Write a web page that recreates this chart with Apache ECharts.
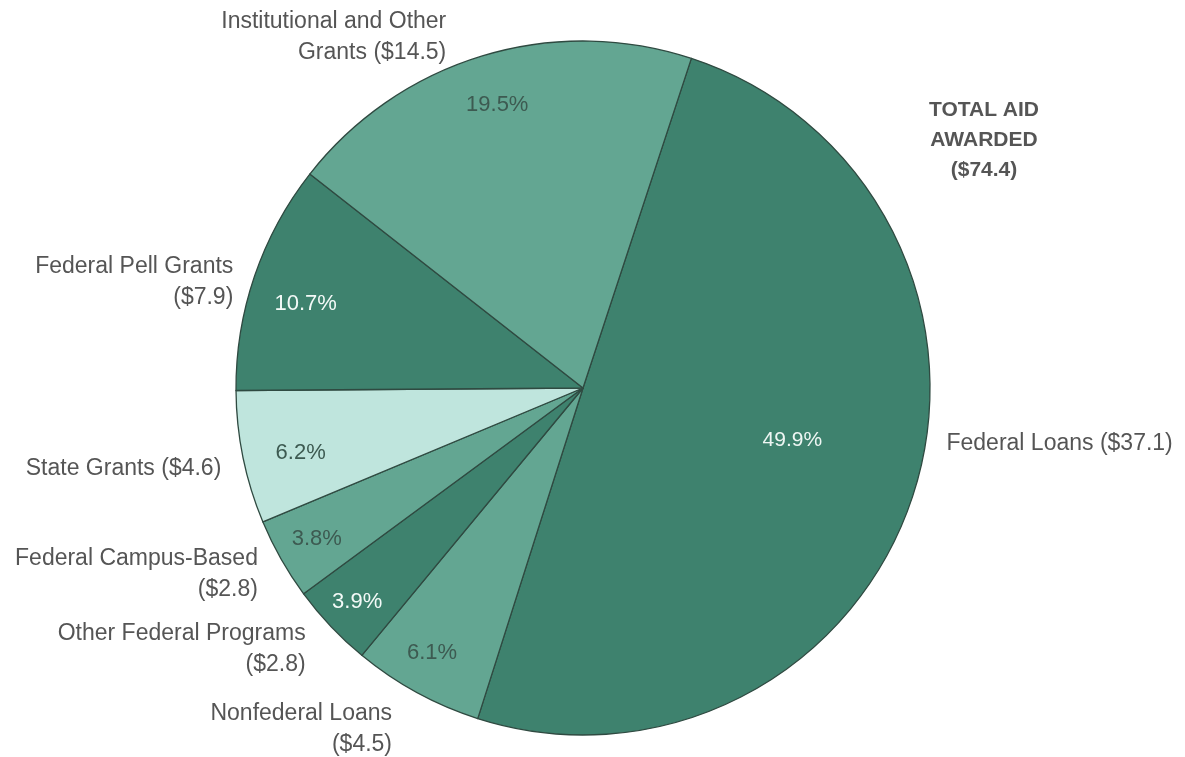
<!DOCTYPE html>
<html>
<head>
<meta charset="utf-8">
<script src="https://cdn.jsdelivr.net/npm/echarts@6/dist/echarts.min.js"></script>
<style>
html,body{margin:0;padding:0;background:#fff;}
#chart{width:1185px;height:757px;}
</style>
</head>
<body>
<div id="chart"></div>
<script>
// Data (clockwise from the Federal Loans slice)
const categories = ['Federal Loans', 'Nonfederal Loans', 'Other Federal Programs', 'Federal Campus-Based', 'State Grants', 'Federal Pell Grants', 'Institutional and Other Grants'];
const labelTexts = ['Federal Loans', 'Nonfederal Loans\n', 'Other Federal Programs\n', 'Federal Campus-Based\n', 'State Grants', 'Federal Pell Grants\n', 'Institutional and Other\nGrants'];
const percents = [49.9, 6.1, 3.9, 3.8, 6.2, 10.7, 19.5];
const amounts = [37.1, 4.5, 2.8, 2.8, 4.6, 7.9, 14.5];
const totalAid = 74.4;
const titleText = 'TOTAL AID\nAWARDED\n($' + totalAid.toFixed(1) + ')';

// Styles
const sliceColors = ['#3e826e', '#63a692', '#3e826e', '#63a692', '#bfe5dd', '#3e826e', '#63a692'];
const pctColors = ['#eef6f3', '#3d5a51', '#f4faf8', '#3d5a51', '#3d5a51', '#f4faf8', '#3d5a51'];
// label nudges (style only, relative to library placement)
const outerNudge = [[15, -55], [-13, 24], [-10, 13], [-6, 8], [-3, 8], [-3, 11], [-27, -5]];
const ringNudge = [[0, 0], [-6, -1], [-6, 6], [-3, 2], [14, 4], [9, 14], [2, 6]];

const chart = echarts.init(document.getElementById('chart'), null, {renderer: 'canvas'});
const CENTER = ['583px', '388px'];
const R = 347;
const START = 71.8;
const FONT = 'Liberation Sans, Arial, sans-serif';

const mainData = categories.map((c, i) => ({
  name: c,
  value: percents[i],
  itemStyle: {color: sliceColors[i]}
}));

const ringData = categories.map((c, i) => ({
  name: c,
  value: percents[i],
  label: {show: i !== 0, color: pctColors[i]}
}));

const bigData = categories.map((c, i) => ({
  name: c,
  value: percents[i],
  label: {show: i === 0, color: pctColors[i]}
}));

const option = {
  backgroundColor: '#ffffff',
  animation: false,
  title: {
    text: titleText,
    left: 979,
    top: 90,
    textAlign: 'center',
    textStyle: {
      fontFamily: FONT,
      fontSize: 21,
      fontWeight: 'bold',
      color: '#555555',
      lineHeight: 30,
      align: 'center'
    }
  },
  series: [
    {
      type: 'pie',
      center: CENTER,
      radius: [0, R],
      startAngle: START,
      clockwise: true,
      avoidLabelOverlap: false,
      silent: true,
      data: mainData,
      itemStyle: {borderColor: '#2f4a41', borderWidth: 1.3},
      label: {
        show: true,
        position: 'outside',
        formatter: p => {
          const i = p.dataIndex;
          const t = labelTexts[i];
          const amt = '($' + amounts[i].toFixed(1) + ')';
          return t.endsWith('\n') ? t + amt : t + ' ' + amt;
        },
        fontFamily: FONT,
        fontSize: 23,
        lineHeight: 31,
        color: '#555555'
      },
      labelLine: {show: false, length: 14, length2: 0},
      labelLayout: p => ({dx: outerNudge[p.dataIndex][0], dy: outerNudge[p.dataIndex][1]})
    },
    {
      type: 'pie',
      center: CENTER,
      radius: [252, R],
      startAngle: START,
      clockwise: true,
      silent: true,
      avoidLabelOverlap: false,
      data: ringData,
      itemStyle: {color: 'rgba(0,0,0,0)', borderWidth: 0},
      label: {
        position: 'inside',
        formatter: p => percents[p.dataIndex].toFixed(1) + '%',
        fontFamily: FONT,
        fontSize: 22
      },
      labelLine: {show: false},
      labelLayout: p => ({dx: ringNudge[p.dataIndex][0], dy: ringNudge[p.dataIndex][1]})
    },
    {
      type: 'pie',
      center: CENTER,
      radius: [87, R],
      startAngle: START,
      clockwise: true,
      silent: true,
      avoidLabelOverlap: false,
      data: bigData,
      itemStyle: {color: 'rgba(0,0,0,0)', borderWidth: 0},
      label: {
        position: 'inside',
        formatter: p => percents[p.dataIndex].toFixed(1) + '%',
        fontFamily: FONT,
        fontSize: 21
      },
      labelLine: {show: false},
      labelLayout: p => ({dy: -16})
    }
  ]
};
chart.setOption(option);
</script>
</body>
</html>
